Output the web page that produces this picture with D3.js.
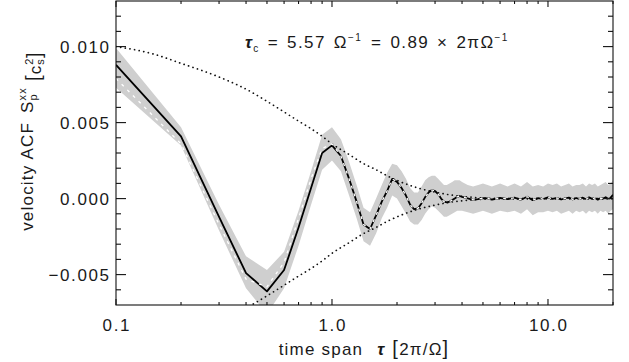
<!DOCTYPE html>
<html><head><meta charset="utf-8">
<script src="https://cdn.jsdelivr.net/npm/d3@7"></script>
<style>
body{margin:0;background:#fff}
svg{display:block}
text{font-family:"Liberation Sans",Arial,sans-serif;fill:#1a1a1a}
</style>
</head><body>
<svg id="c" width="629" height="362"></svg>
<script>
// ---------- data ----------
const tau = [0.1,0.2,0.3,0.4,0.5,0.6,0.7,0.8,0.9,1.0,
  1.1,1.2,1.3,1.4,1.5,1.6,1.7,1.8,1.9,2.0,
  2.1,2.2,2.3,2.4,2.5,2.6,2.7,2.8,2.9,3.0,
  3.1,3.2,3.3,3.4,3.5,3.6,3.7,3.8,3.9,4.0,
  4.25,4.5,4.75,5.0,5.25,5.5,5.75,6.0,
  6.5,7.0,7.5,8.0,8.5,9.0,9.5,10,10.5,11,11.5,12,12.5,13,13.5,14,
  14.5,15,15.5,16,16.5,17,17.5,18,18.5,19,19.5,20];

const acf = [0.0088,0.0041,-0.0012,-0.0049,-0.0061,-0.0047,-0.0019,0.0007,0.0030,0.0035,
  0.0028,0.0013,-0.0002,-0.0017,-0.0020,-0.0011,-0.0002,0.0005,0.0013,0.0011,
  0.0007,0.0002,-0.0004,-0.0007,-0.00065,-0.0003,0.0001,0.0004,0.00057,0.0005,
  0.0003,0.0000,-0.0002,-0.00025,-0.0002,-0.0001,0.0000,0.00012,0.00017,0.00012,
  0.00002,-0.00008,-0.00004,0.00003,0.00001,-0.00006,-0.00002,0.00004,
  -0.00003,0.00006,-0.00008,0.00012,-0.00010,0.00003,-0.00004,0.00008,-0.00002,0.00005,-0.00006,0.00002,0.00007,-0.00005,0.00004,-0.00003,
  0.00006,-0.00004,0.00008,-0.00002,0.00005,-0.00007,0.00004,0.00001,0.00009,-0.00003,0.00006,0.00025];

// second (white dashed) estimate: differs from acf only at the first ten lags
const acfAltEarly = [0.0079,0.0036,-0.0017,-0.0053,-0.0058,-0.0042,-0.0013,0.0013,0.0033,0.0036];

const bandLow = [0.0073,0.0035,-0.0021,-0.0059,-0.0076,-0.0059,-0.0031,-0.0004,0.0019,0.0025,
  0.0018,0.0002,-0.0013,-0.0028,-0.0031,-0.0023,-0.0013,-0.0006,0.0002,0.0000,
  -0.0005,-0.0010,-0.0015,-0.0017,-0.0017,-0.0014,-0.0010,-0.0007,-0.0005,-0.0006,
  -0.0008,-0.0010,-0.0012,-0.0012,-0.0011,-0.0010,-0.0009,-0.0008,-0.0008,-0.0008,
  -0.0009,-0.0010,-0.0009,-0.0008,-0.0009,-0.0010,-0.0009,-0.0008,
  -0.0009,-0.0008,-0.0010,-0.0007,-0.0011,-0.0009,-0.0009,-0.0008,-0.0009,-0.0008,-0.0010,-0.0009,-0.0008,-0.0010,-0.0008,-0.0009,
  -0.0008,-0.0010,-0.0008,-0.0009,-0.0008,-0.0010,-0.0008,-0.0009,-0.0008,-0.0010,-0.0008,-0.0007];

const bandHigh = [0.0099,0.0047,-0.0004,-0.0038,-0.0047,-0.0035,-0.0008,0.0018,0.0042,0.0047,
  0.0039,0.0024,0.0009,-0.0006,-0.0009,0.0000,0.0009,0.0017,0.0023,0.0022,
  0.0018,0.0013,0.0007,0.0004,0.0004,0.0008,0.0012,0.0014,0.0015,0.0015,
  0.0013,0.0011,0.0009,0.0009,0.0010,0.0011,0.0012,0.0012,0.0012,0.0011,
  0.0009,0.0008,0.0009,0.0010,0.0009,0.0008,0.0009,0.0010,
  0.0008,0.0010,0.0008,0.0011,0.0008,0.0009,0.0008,0.0010,0.0009,0.0010,0.0008,0.0009,0.0010,0.0008,0.0009,0.0009,
  0.0010,0.0008,0.0010,0.0009,0.0010,0.0008,0.0009,0.0010,0.0011,0.0009,0.0010,0.0012];

// decay envelope (dotted), read at these lags
const envTau = [0.1,0.15,0.2,0.3,0.4,0.5,0.6,0.7,0.8,0.9,1.0,1.2,1.4,1.6,1.8,2.0,2.5,3.0,3.5,4.0,5.0,6.0,8.0,10,20];
const envAmp = [0.0100,0.0095,0.0089,0.0080,0.0072,0.0064,0.0057,0.0051,0.0046,0.0041,0.0036,0.0029,0.0023,0.0019,0.0015,0.0012,0.0007,0.00043,0.00025,0.00015,0.00004,0.00001,0,0,0];

const xTickValues = [0.1,1,10];
const xTickLabels = ["0.1","1.0","10.0"];
const xMinorTicks = [0.2,0.3,0.4,0.5,0.6,0.7,0.8,0.9,2,3,4,5,6,7,8,9,20];
const yTickValues = [-0.005,0,0.005,0.010];
const yTickLabels = ["\u22120.005","0.000","0.005","0.010"];
const yMinorTicks = [-0.006,-0.004,-0.003,-0.002,-0.001,0.001,0.002,0.003,0.004,0.006,0.007,0.008,0.009,0.011,0.012];

// ---------- layout ----------
const L=116, R=613, T=1, B=305;
const svg = d3.select("#c");
const x = d3.scaleLog().domain([0.1,20]).range([L,R]);
const y = d3.scaleLinear().domain([-0.007,0.013]).range([B,T]);

svg.append("defs").append("clipPath").attr("id","clip")
  .append("rect").attr("x",L).attr("y",T).attr("width",R-L).attr("height",B-T);

const plot = svg.append("g").attr("clip-path","url(#clip)");

const rows = tau.map((t,i)=>({t, v:acf[i], lo:bandLow[i], hi:bandHigh[i],
  alt: i<acfAltEarly.length ? acfAltEarly[i] : acf[i]}));

plot.append("path").datum(rows)
  .attr("d", d3.area().x(d=>x(d.t)).y0(d=>y(d.lo)).y1(d=>y(d.hi)))
  .attr("fill","#cfcfcf");

const env = envTau.map((t,i)=>({t, a:envAmp[i]}));
[1,-1].forEach(s=>{
  plot.append("path").datum(env)
    .attr("d", d3.line().x(d=>x(d.t)).y(d=>y(s*d.a)).curve(d3.curveMonotoneX))
    .attr("fill","none").attr("stroke","#111").attr("stroke-width",1.7)
    .attr("stroke-linecap","round").attr("stroke-dasharray","0.1,4.6");
});

plot.append("path").datum(rows)
  .attr("d", d3.line().x(d=>x(d.t)).y(d=>y(d.v)))
  .attr("fill","none").attr("stroke","#000").attr("stroke-width",1.8)
  .attr("stroke-linejoin","round");

plot.append("path").datum(rows)
  .attr("d", d3.line().x(d=>x(d.t)).y(d=>y(d.alt)))
  .attr("fill","none").attr("stroke","#fff").attr("stroke-width",1.3)
  .attr("stroke-dasharray","3,5");

// ---------- frame and ticks ----------
const ax = svg.append("g").attr("stroke","#111").attr("stroke-width",1.1);
ax.append("rect").attr("x",L).attr("y",T).attr("width",R-L).attr("height",B-T).attr("fill","none");
function xt(v,len){
  ax.append("line").attr("x1",x(v)).attr("x2",x(v)).attr("y1",B).attr("y2",B-len);
  ax.append("line").attr("x1",x(v)).attr("x2",x(v)).attr("y1",T).attr("y2",T+len);
}
function yt(v,len){
  ax.append("line").attr("x1",L).attr("x2",L+len).attr("y1",y(v)).attr("y2",y(v));
  ax.append("line").attr("x1",R).attr("x2",R-len).attr("y1",y(v)).attr("y2",y(v));
}
xTickValues.forEach(v=>xt(v,6));
xMinorTicks.forEach(v=>xt(v,3));
yTickValues.forEach(v=>yt(v,10));
yMinorTicks.forEach(v=>yt(v,5));

// ---------- tick labels ----------
const FS=17, LS=1.6;
svg.append("g").selectAll("text").data(xTickValues).join("text")
  .attr("x",d=>x(d)+LS/2).attr("y",331).attr("text-anchor","middle")
  .attr("font-size",FS).attr("letter-spacing",LS)
  .text((d,i)=>xTickLabels[i]);
svg.append("g").selectAll("text").data(yTickValues).join("text")
  .attr("x",109+LS).attr("y",d=>y(d)+6).attr("text-anchor","end")
  .attr("font-size",FS).attr("letter-spacing",LS)
  .text((d,i)=>yTickLabels[i]);

// ---------- axis titles ----------
const xl = svg.append("text").attr("x",364).attr("y",355).attr("text-anchor","middle")
  .attr("font-size",FS).attr("letter-spacing",1.2);
xl.append("tspan").text("time span");
xl.append("tspan").attr("dx",14).attr("font-style","italic").attr("font-weight","bold").text("\u03c4");
xl.append("tspan").attr("dx",7).attr("font-size",20).text("[");
xl.append("tspan").text("2\u03c0/\u03a9");
xl.append("tspan").attr("font-size",20).text("]");

const yl = svg.append("text").attr("transform","translate(33,141) rotate(-90)")
  .attr("text-anchor","middle").attr("font-size",FS).attr("letter-spacing",1.2);
yl.append("tspan").text("velocity ACF");
yl.append("tspan").attr("dx",9).text("S");
const sup1 = yl.append("tspan").attr("font-size",11).attr("dy",-7).text("xx");
const sub1 = yl.append("tspan").attr("font-size",11).text("p");
yl.append("tspan").attr("dx",12).attr("dy",3).attr("font-size",20).text("[");
yl.append("tspan").attr("dy",1).text("c");
const sup2 = yl.append("tspan").attr("font-size",11).attr("dy",-8).text("2");
const sub2 = yl.append("tspan").attr("font-size",11).text("s");
const cl = yl.append("tspan").attr("font-size",20).text("]");
{
  const w1 = sup1.node().getComputedTextLength();
  sub1.attr("dx",-w1).attr("dy",11);
  const w2 = sup2.node().getComputedTextLength();
  sub2.attr("dx",-w2).attr("dy",11);
  cl.attr("dy",-3);
}

// ---------- annotation ----------
const an = svg.append("text").attr("x",245).attr("y",48).attr("font-size",FS).attr("letter-spacing",1.4);
an.append("tspan").attr("font-style","italic").attr("font-weight","bold").text("\u03c4");
an.append("tspan").attr("font-size",10).attr("dy",4).text("c");
an.append("tspan").attr("dy",-4).attr("dx",8).text("=");
an.append("tspan").attr("dx",8).text("5.57");
an.append("tspan").attr("dx",8).text("\u03a9");
an.append("tspan").attr("font-size",10).attr("dy",-7).text("\u22121");
an.append("tspan").attr("dy",7).attr("dx",9).text("=");
an.append("tspan").attr("dx",8).text("0.89");
an.append("tspan").attr("dx",8).text("\u00d7");
an.append("tspan").attr("dx",8).text("2\u03c0\u03a9");
an.append("tspan").attr("font-size",10).attr("dy",-7).text("\u22121");
</script>
</body></html>
